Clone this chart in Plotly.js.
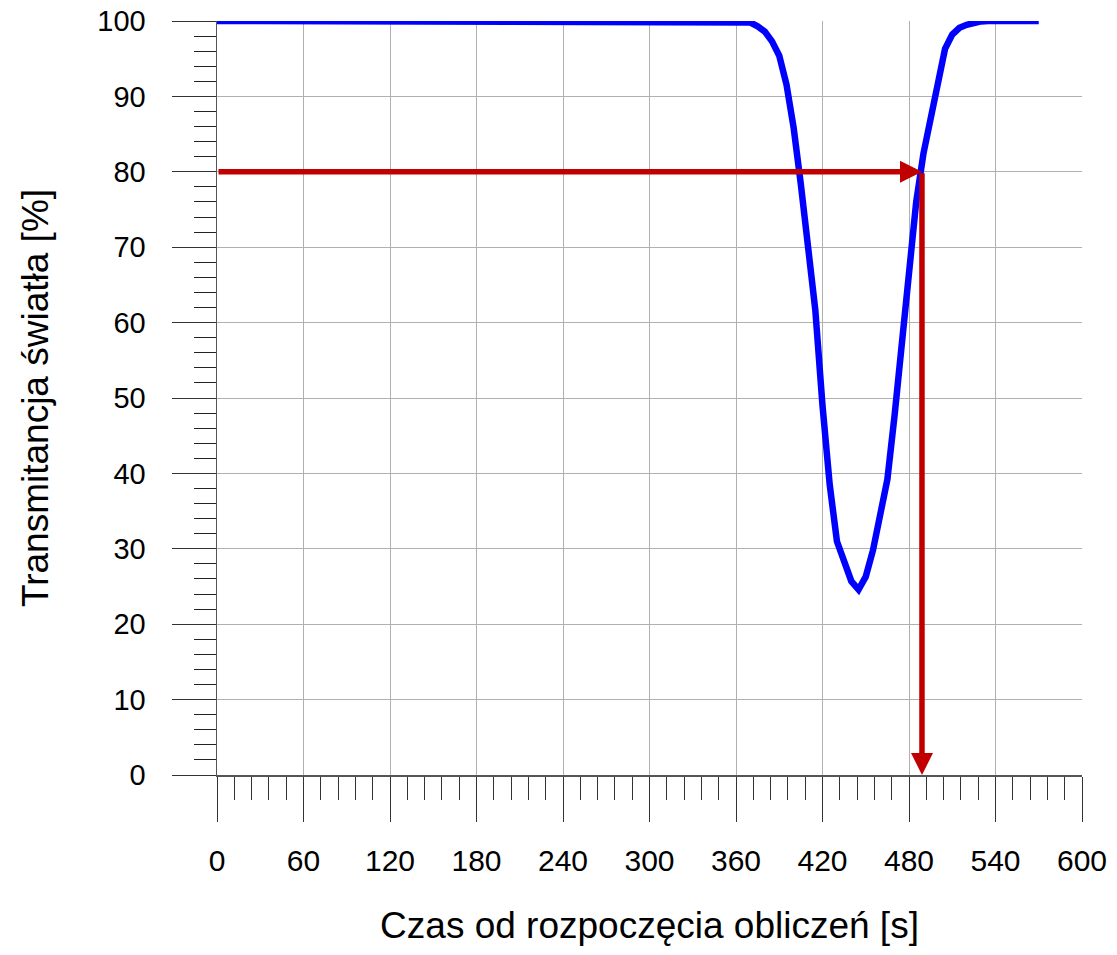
<!DOCTYPE html>
<html>
<head>
<meta charset="utf-8">
<script src="https://cdn.plot.ly/plotly-3.0.1.min.js"></script>
<style>
  html, body { margin: 0; padding: 0; background: #ffffff; }
  #chart { width: 1117px; height: 955px; }
</style>
</head>
<body>
<div id="chart"></div>
<script>
// Time [s]
const timeS = [0, 60, 120, 180, 240, 300, 360, 365, 370, 375, 380, 385, 390, 395, 400, 405, 410, 415, 420, 425, 430, 435, 440, 445, 450, 455, 460, 465, 470, 475, 480, 485, 490, 495, 500, 505, 510, 515, 520, 525, 530, 535, 570];
// Light transmittance [%]
const transmittance = [100, 100, 100, 100, 100, 100, 100, 100, 99.8, 99.3, 98.6, 97.3, 95.4, 91.6, 85.8, 78.3, 70.3, 61.7, 49, 38.5, 31, 28.5, 25.7, 24.6, 26.3, 29.8, 34.5, 39.2, 47.7, 56.7, 65.8, 76, 82.4, 87.3, 92, 96.3, 98.2, 99.1, 99.5, 99.8, 99.95, 100, 100];

// Reading: threshold transmittance and the time it is reached
const thresholdPct = 80;
const crossingTimeS = 489;

const xTickVals = [0, 60, 120, 180, 240, 300, 360, 420, 480, 540, 600];
const yTickVals = [0, 10, 20, 30, 40, 50, 60, 70, 80, 90, 100];

const xTitle = 'Czas od rozpoczęcia obliczeń [s]';
const yTitle = 'Transmitancja światła [%]';

const FONT = '"Liberation Sans", Arial, sans-serif';
const red = '#c00000';

const traces = [
  {
    x: timeS, y: transmittance, type: 'scatter', mode: 'lines',
    line: { color: '#0000ff', width: 6.5 }, hoverinfo: 'skip', showlegend: false
  }
];

const annotations = [
  { // horizontal arrow: from y-axis to the curve
    x: crossingTimeS, y: thresholdPct, ax: 0, ay: thresholdPct,
    xref: 'x', yref: 'y', axref: 'x', ayref: 'y',
    text: '', showarrow: true, arrowhead: 2, arrowsize: 0.8, arrowwidth: 5.5,
    arrowcolor: red, standoff: 0, startstandoff: 0
  },
  { // vertical arrow: from the curve down to the time axis
    x: crossingTimeS, y: 0, ax: crossingTimeS, ay: thresholdPct,
    xref: 'x', yref: 'y', axref: 'x', ayref: 'y',
    text: '', showarrow: true, arrowhead: 2, arrowsize: 0.8, arrowwidth: 5.5,
    arrowcolor: red, standoff: -5, startstandoff: 0
  }
];

const layout = {
  width: 1117, height: 955,
  margin: { l: 217, r: 35, t: 21, b: 180 },
  paper_bgcolor: '#ffffff', plot_bgcolor: '#ffffff',
  font: { family: FONT, size: 28, color: '#000000' },
  showlegend: false,
  xaxis: {
    range: [0, 600], tickmode: 'array', tickvals: xTickVals, ticktext: xTickVals.map(String),
    ticks: 'outside', ticklen: 45, tickwidth: 1, tickcolor: '#333333',
    ticklabelstandoff: 13,
    showgrid: true, gridcolor: '#b0b0b0', gridwidth: 1,
    showline: true, linecolor: '#555555', linewidth: 1.5,
    zeroline: false,
    minor: { dtick: 12, tick0: 0, ticks: 'outside', ticklen: 23, tickwidth: 1, tickcolor: '#333333', showgrid: false },
    tickfont: { family: FONT, size: 30, color: '#000000' },
    title: { text: xTitle, font: { family: FONT, size: 37, color: '#000000' }, standoff: 36 },
    fixedrange: true
  },
  yaxis: {
    range: [0, 100], tickmode: 'array', tickvals: yTickVals, ticktext: yTickVals.map(String),
    ticks: 'outside', ticklen: 44, tickwidth: 1, tickcolor: '#333333',
    ticklabelstandoff: 20,
    showgrid: true, gridcolor: '#b0b0b0', gridwidth: 1,
    showline: true, linecolor: '#555555', linewidth: 1.5,
    zeroline: false,
    minor: { dtick: 2, tick0: 0, ticks: 'outside', ticklen: 22, tickwidth: 1, tickcolor: '#222222', showgrid: false },
    tickfont: { family: FONT, size: 29, color: '#000000' },
    title: { text: yTitle, font: { family: FONT, size: 37, color: '#000000' }, standoff: 37 },
    fixedrange: true
  },
  annotations: annotations
};

Plotly.newPlot('chart', traces, layout, { staticPlot: true, displayModeBar: false });
</script>
</body>
</html>
